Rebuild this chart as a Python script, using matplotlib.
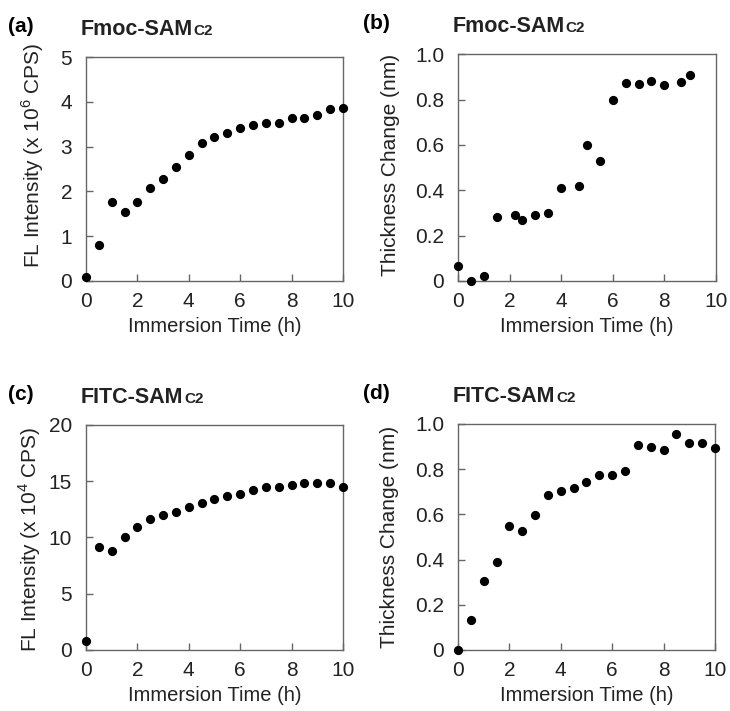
import numpy as np
import matplotlib
matplotlib.use("Agg")
import matplotlib.pyplot as plt
from matplotlib.ticker import FuncFormatter

plt.rcParams['font.family'] = ['Liberation Sans', 'DejaVu Sans']
plt.rcParams['mathtext.fontset'] = 'custom'
plt.rcParams['mathtext.rm'] = 'Liberation Sans'

# (a) Fmoc-SAM C2, fluorescence
time_a = [0, 0.5, 1, 1.5, 2, 2.5, 3, 3.5, 4, 4.5, 5, 5.5, 6, 6.5, 7, 7.5, 8, 8.5, 9, 9.5, 10]
fl_a = [0.10, 0.80, 1.77, 1.53, 1.77, 2.07, 2.27, 2.55, 2.81, 3.08, 3.22, 3.31, 3.42,
        3.49, 3.53, 3.53, 3.64, 3.64, 3.70, 3.83, 3.86]

# (b) Fmoc-SAM C2, thickness
time_b = [0, 0.5, 1, 1.5, 2.2, 2.5, 3, 3.5, 4, 4.7, 5, 5.5, 6, 6.5, 7, 7.5, 8, 8.65, 9]
thick_b = [0.068, 0.0, 0.022, 0.28, 0.29, 0.27, 0.29, 0.30, 0.41, 0.42, 0.60, 0.53,
           0.80, 0.875, 0.87, 0.88, 0.865, 0.876, 0.906]

# (c) FITC-SAM C2, fluorescence
time_c = [0, 0.5, 1, 1.5, 2, 2.5, 3, 3.5, 4, 4.5, 5, 5.5, 6, 6.5, 7, 7.5, 8, 8.5, 9, 9.5, 10]
fl_c = [0.83, 9.13, 8.83, 10.07, 10.96, 11.6, 12.0, 12.3, 12.74, 13.1, 13.4, 13.7, 13.9,
        14.2, 14.5, 14.5, 14.67, 14.8, 14.87, 14.8, 14.5]

# (d) FITC-SAM C2, thickness
time_d = [0, 0.5, 1, 1.5, 2, 2.5, 3, 3.5, 4, 4.5, 5, 5.5, 6, 6.5, 7, 7.5, 8, 8.5, 9, 9.5, 10]
thick_d = [0.0, 0.133, 0.306, 0.387, 0.547, 0.527, 0.595, 0.687, 0.705, 0.715, 0.743,
           0.773, 0.773, 0.79, 0.908, 0.90, 0.883, 0.956, 0.916, 0.916, 0.892]

x_ticks = [0, 2, 4, 6, 8, 10]

FRAME = "#666666"
TEXT = "#222222"

# letter, title, x, y, yticks, ylabel, axes rect, ylabel coords, y decimals
panels = [
    ("(a)", "Fmoc-SAM", time_a, fl_a, [0, 1, 2, 3, 4, 5], "FL Intensity (x 10$^6$ CPS)",
     [0.1178, 0.6048, 0.352, 0.315], (-0.155, 0.56), 0),
    ("(b)", "Fmoc-SAM", time_b, thick_b, [0, 0.2, 0.4, 0.6, 0.8, 1.0], "Thickness Change (nm)",
     [0.6274, 0.6048, 0.3534, 0.319], (-0.225, 0.51), 1),
    ("(c)", "FITC-SAM", time_c, fl_c, [0, 5, 10, 15, 20], "FL Intensity (x 10$^4$ CPS)",
     [0.1178, 0.0858, 0.352, 0.3165], (-0.167, 0.49), 0),
    ("(d)", "FITC-SAM", time_d, thick_d, [0, 0.2, 0.4, 0.6, 0.8, 1.0], "Thickness Change (nm)",
     [0.6274, 0.0858, 0.352, 0.318], (-0.228, 0.5), 1),
]


def make_fmt(dec):
    def f(v, pos):
        if abs(v) < 1e-9:
            return "0"
        return "%.*f" % (dec, v)
    return FuncFormatter(f)


fig = plt.figure(figsize=(7.3, 7.11), dpi=100)
fig.patch.set_facecolor("white")

for label, title, xs, ys, yticks, ylabel, rect, ylab_xy, dec in panels:
    ax = fig.add_axes(rect)
    ax.scatter(xs, ys, s=44, color="black", zorder=5, clip_on=False, linewidths=0)
    ax.set_xlim(0, 10)
    ax.set_ylim(yticks[0], yticks[-1])
    ax.set_xticks(x_ticks)
    ax.set_yticks(yticks)
    ax.yaxis.set_major_formatter(make_fmt(dec))
    ax.xaxis.set_major_formatter(make_fmt(0))
    for sp in ax.spines.values():
        sp.set_color(FRAME)
        sp.set_linewidth(1.0)
    ax.tick_params(direction="in", length=5, width=1.0, color=FRAME,
                   labelsize=15, labelcolor=TEXT)
    ax.tick_params(axis="y", pad=10)
    ax.tick_params(axis="x", pad=8)
    ax.set_xlabel("Immersion Time (h)", fontsize=14.5, color=TEXT, labelpad=4)
    ax.set_ylabel(ylabel, fontsize=15, color=TEXT)
    ax.yaxis.set_label_coords(*ylab_xy)

    # panel letter and title
    left, bottom, w, h = rect
    top = bottom + h
    x_letter = 0.011 if left < 0.5 else 0.497
    fig.text(x_letter, top + 0.035, label, fontsize=15, fontweight="bold",
             color="black", ha="left", va="baseline")
    t = fig.text(left - 0.007, top + 0.031, title, fontsize=15.5, fontweight="bold",
                 color=TEXT, ha="left", va="baseline")
    fig.canvas.draw()
    bb = t.get_window_extent()
    fig.text(bb.x1 / fig.bbox.width + 0.001, top + 0.031, "C2", fontsize=11,
             fontweight="bold", color=TEXT, ha="left", va="baseline")

fig.savefig("out.png", dpi=100)
